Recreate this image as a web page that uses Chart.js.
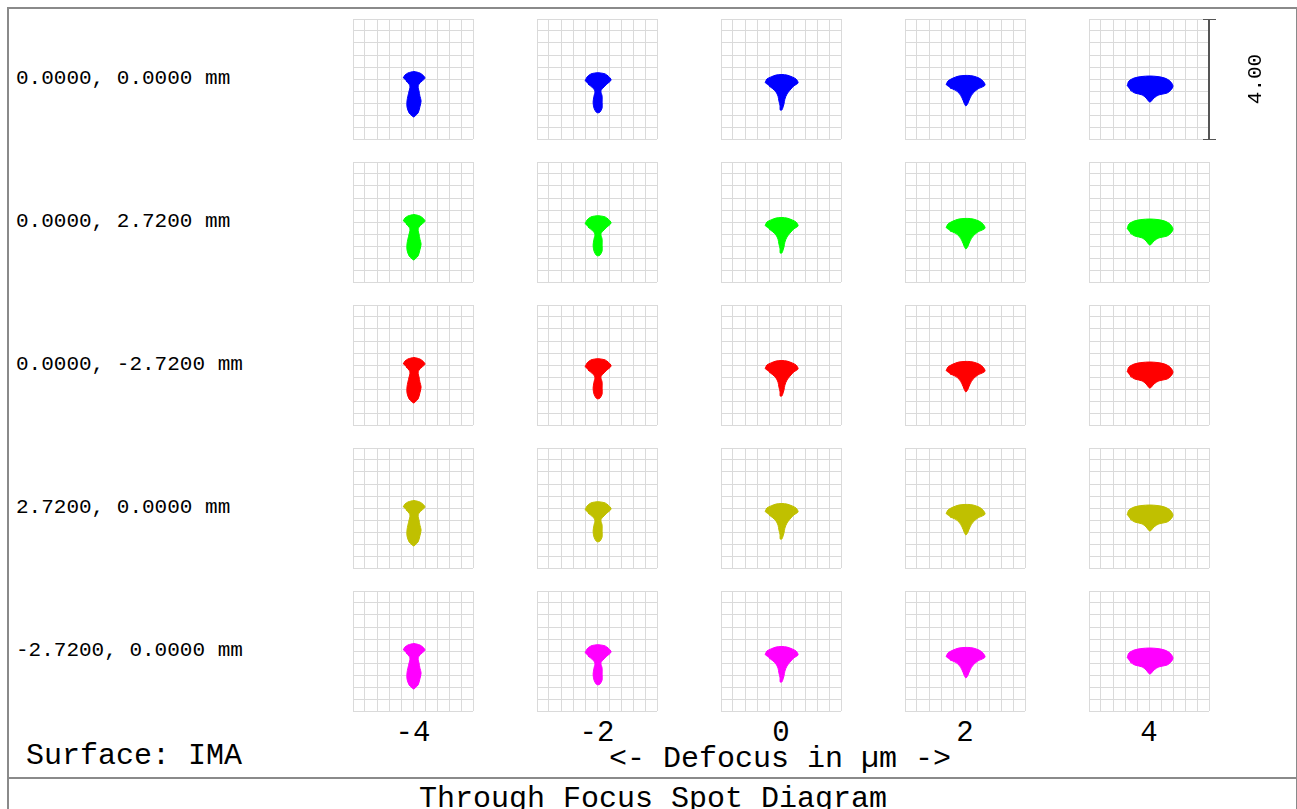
<!DOCTYPE html>
<html>
<head>
<meta charset="utf-8">
<script src="https://cdn.jsdelivr.net/npm/chart.js@4/dist/chart.umd.min.js"></script>
<style>
  html, body { margin: 0; padding: 0; background: #fff; }
  #root { position: relative; width: 1297px; height: 809px; overflow: hidden; background: #fff; }
  .frame { position: absolute; left: 7px; top: 7px; width: 1287px; height: 820px; border: 2px solid #8a8a8a; }
  .sep { position: absolute; left: 7px; top: 777px; width: 1291px; height: 2px; background: #8a8a8a; }
  .txt { position: absolute; white-space: pre; color: #000; font-family: "Liberation Mono", "DejaVu Sans Mono", monospace; line-height: 1; }
  .cell { position: absolute; width: 122px; height: 122px; }
  .bar { position: absolute; background: #555; }
</style>
</head>
<body>
<div id="root">
  <div class="frame"></div>
  <div class="sep"></div>
</div>
<script>
// ---- data ----
const defocusValues = [-4, -2, 0, 2, 4];
const defocusLabels = ['-4', '-2', '0', '2', '4'];
const fieldLabels = ['0.0000, 0.0000 mm', '0.0000, 2.7200 mm', '0.0000, -2.7200 mm', '2.7200, 0.0000 mm', '-2.7200, 0.0000 mm'];
const boxSize = 4.00;          // µm, full box width (scale bar)
const gridTicks = [-2.0, -1.6, -1.2, -0.8, -0.4, 0.0, 0.4, 0.8, 1.2, 1.6, 2.0];
const surfaceLabel = 'Surface: IMA';
const xAxisTitle = '<- Defocus in µm ->';
const chartTitle = 'Through Focus Spot Diagram';

// spot outlines (µm, relative to box centre), one per defocus
const spotM4X = [-0.33,-0.27,-0.17,-0.07,0.03,0.13,0.23,0.33,0.40,0.30,0.20,0.17,0.20,0.23,0.27,0.23,0.17,0.07,0.03,-0.03,-0.13,-0.20,-0.20,-0.17,-0.13,-0.10,-0.13,-0.23];
const spotM4Y = [0.03,0.13,0.20,0.23,0.25,0.23,0.20,0.13,0.03,-0.07,-0.17,-0.27,-0.40,-0.57,-0.73,-0.93,-1.13,-1.23,-1.27,-1.23,-1.13,-0.93,-0.73,-0.57,-0.40,-0.27,-0.17,-0.07];
const spotM2X = [-0.40,-0.33,-0.20,-0.07,0.03,0.13,0.27,0.37,0.47,0.33,0.20,0.13,0.17,0.17,0.17,0.10,0.03,-0.03,-0.10,-0.13,-0.10,-0.07,-0.17,-0.30];
const spotM2Y = [-0.07,0.07,0.17,0.20,0.21,0.20,0.17,0.10,-0.03,-0.17,-0.30,-0.40,-0.57,-0.77,-0.97,-1.10,-1.13,-1.10,-0.97,-0.77,-0.57,-0.40,-0.27,-0.17];
const spot0X = [-0.53,-0.47,-0.33,-0.17,0.03,0.20,0.37,0.50,0.57,0.43,0.30,0.20,0.13,0.10,0.07,0.03,-0.03,-0.03,-0.07,-0.10,-0.17,-0.27,-0.40];
const spot0Y = [-0.13,0.00,0.07,0.13,0.15,0.13,0.07,0.00,-0.13,-0.23,-0.37,-0.50,-0.67,-0.83,-0.93,-1.03,-1.03,-0.90,-0.73,-0.57,-0.43,-0.33,-0.23];
const spotP2X = [-0.63,-0.57,-0.40,-0.20,0.07,0.27,0.47,0.60,0.67,0.57,0.43,0.27,0.17,0.10,0.03,-0.03,-0.10,-0.20,-0.33,-0.50];
const spotP2Y = [-0.20,-0.07,0.03,0.10,0.12,0.10,0.03,-0.07,-0.20,-0.27,-0.33,-0.47,-0.63,-0.80,-0.90,-0.80,-0.63,-0.47,-0.37,-0.30];
const spotP4X = [-0.73,-0.67,-0.50,-0.27,0.03,0.30,0.53,0.70,0.80,0.73,0.60,0.33,0.17,0.03,-0.10,-0.23,-0.47,-0.63];
const spotP4Y = [-0.23,-0.07,0.03,0.08,0.10,0.08,0.03,-0.07,-0.23,-0.37,-0.47,-0.53,-0.63,-0.77,-0.63,-0.53,-0.47,-0.37];

const spotXs = [spotM4X, spotM2X, spot0X, spotP2X, spotP4X];
const spotYs = [spotM4Y, spotM2Y, spot0Y, spotP2Y, spotP4Y];

// ---- layout / style ----
const fieldColors = ['#0000ff', '#00ff00', '#ff0000', '#c0c000', '#ff00ff'];
const colLeft = [352, 536, 720, 904, 1088];
const rowTop = [18, 161, 304, 447, 590];
const root = document.getElementById('root');

function addText(str, css) {
  const d = document.createElement('div');
  d.className = 'txt';
  d.textContent = str;
  Object.assign(d.style, css);
  root.appendChild(d);
  return d;
}

const half = boxSize / 2;
const setGrid = (scale) => { scale.ticks = gridTicks.map(v => ({ value: v })); };

fieldLabels.forEach((lab, r) => {
  defocusValues.forEach((dz, c) => {
    const wrap = document.createElement('div');
    wrap.className = 'cell';
    wrap.style.left = colLeft[c] + 'px';
    wrap.style.top = rowTop[r] + 'px';
    const cv = document.createElement('canvas');
    cv.width = 122; cv.height = 122;
    wrap.appendChild(cv);
    root.appendChild(wrap);
    const pts = spotXs[c].map((x, i) => ({ x: x, y: spotYs[c][i] }));
    new Chart(cv, {
      type: 'scatter',
      data: { datasets: [{
        data: pts,
        showLine: true,
        fill: 'shape',
        tension: 0.3,
        backgroundColor: fieldColors[r],
        borderColor: fieldColors[r],
        borderWidth: 1,
        pointRadius: 0
      }]},
      options: {
        responsive: false,
        animation: false,
        devicePixelRatio: 1,
        layout: { padding: 1, autoPadding: false },
        plugins: { legend: { display: false }, tooltip: { enabled: false } },
        scales: {
          x: { type: 'linear', min: -half, max: half, afterBuildTicks: setGrid,
               ticks: { display: false },
               grid: { color: '#dadada', drawTicks: false, lineWidth: 1 },
               border: { display: false } },
          y: { type: 'linear', min: -half, max: half, afterBuildTicks: setGrid,
               ticks: { display: false },
               grid: { color: '#dadada', drawTicks: false, lineWidth: 1 },
               border: { display: false } }
        }
      }
    });
  });
  addText(lab, { left: '16px', top: (rowTop[r] + 50) + 'px', fontSize: '21px' });
});

defocusLabels.forEach((t, c) => {
  const d = addText(t, { left: (colLeft[c] + 61) + 'px', top: '719px', fontSize: '29px' });
  d.style.transform = 'translateX(-50%)';
});

addText(surfaceLabel, { left: '26px', top: '741px', fontSize: '30px' });
const xt = addText(xAxisTitle, { left: '780px', top: '744px', fontSize: '30px' });
xt.style.transform = 'translateX(-50%)';
const tt = addText(chartTitle, { left: '653px', top: '784px', fontSize: '30px' });
tt.style.transform = 'translateX(-50%)';

// scale bar
const sb = [
  { left: 1208, top: 19, width: 2, height: 121 },
  { left: 1203, top: 19, width: 13, height: 1 },
  { left: 1203, top: 139, width: 13, height: 1 }
];
sb.forEach(b => {
  const d = document.createElement('div');
  d.className = 'bar';
  Object.assign(d.style, { left: b.left + 'px', top: b.top + 'px', width: b.width + 'px', height: b.height + 'px' });
  root.appendChild(d);
});
const sl = addText(boxSize.toFixed(2), { left: '1255px', top: '79px', fontSize: '21px' });
sl.style.transform = 'translate(-50%, -50%) rotate(-90deg)';
</script>
</body>
</html>
